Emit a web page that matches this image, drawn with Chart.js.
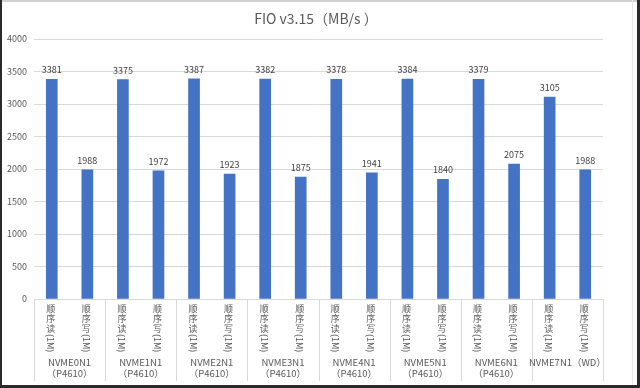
<!DOCTYPE html>
<html><head><meta charset="utf-8">
<script src="https://cdn.jsdelivr.net/npm/chart.js@4"></script>
<style>html,body{margin:0;padding:0;background:#fff;}#wrap{width:640px;height:388px;position:relative;}</style>
</head><body><div id="wrap"><canvas id="c" width="640" height="388"></canvas></div>
<script>
const titleText = "FIO v3.15（MB/s ）";
const groups = ["NVME0N1","NVME1N1","NVME2N1","NVME3N1","NVME4N1","NVME5N1","NVME6N1","NVME7N1"];
const groupSub = ["（P4610）","（P4610）","（P4610）","（P4610）","（P4610）","（P4610）","（P4610）","（WD）"];
const subLabels = ["顺序读","顺序写"];
const subSuffix = "(1M)";
const values = [3381,1988,3375,1972,3387,1923,3382,1875,3378,1941,3384,1840,3379,2075,3105,1988];
const yTicks = [0,500,1000,1500,2000,2500,3000,3500,4000];

const labels = [];
groups.forEach(g => subLabels.forEach(s => labels.push(g + " " + s + subSuffix)));

const FONT = "'Noto Sans CJK SC','Noto Sans',sans-serif";
const TXT = '#595959';

const deco = {
  id: 'deco',
  afterDatasetsDraw(chart) {
    const ctx = chart.ctx;
    const meta = chart.getDatasetMeta(0);
    ctx.save();
    ctx.fillStyle = '#404040';
    ctx.font = "9px " + FONT;
    ctx.textAlign = 'center';
    ctx.textBaseline = 'bottom';
    meta.data.forEach((el, i) => {
      ctx.fillText(String(values[i]), el.x, el.y - 5);
    });
    ctx.restore();
  },
  afterDraw(chart) {
    const ctx = chart.ctx;
    const xs = chart.scales.x;
    const area = chart.chartArea;
    ctx.save();
    // title
    ctx.fillStyle = TXT;
    ctx.font = "14px " + FONT;
    ctx.textAlign = 'center';
    ctx.textBaseline = 'middle';
    ctx.fillText(titleText, 316, 19);
    // category labels
    ctx.font = "9px " + FONT;
    labels.forEach((l, i) => {
      const x = xs.getPixelForValue(i) - 1;
      const s = subLabels[i % 2];
      let y = area.bottom + 5;
      ctx.textAlign = 'center';
      ctx.textBaseline = 'top';
      for (const ch of s) { ctx.fillText(ch, x, y); y += 10; }
      ctx.save();
      ctx.translate(x, y);
      ctx.rotate(Math.PI / 2);
      ctx.textAlign = 'left';
      ctx.textBaseline = 'middle';
      ctx.fillText(subSuffix, 0, 0);
      ctx.restore();
    });
    // group labels and separators
    const step = (area.right - area.left) / groups.length;
    ctx.strokeStyle = '#d9d9d9';
    ctx.lineWidth = 1;
    for (let g = 0; g <= groups.length; g++) {
      const x = Math.round(area.left + g * step) + 0.5;
      ctx.beginPath(); ctx.moveTo(x, area.bottom); ctx.lineTo(x, 381); ctx.stroke();
    }
    ctx.font = "9.5px " + FONT;
    ctx.textAlign = 'center';
    ctx.textBaseline = 'middle';
    groups.forEach((g, i) => {
      const cx = (xs.getPixelForValue(2 * i) + xs.getPixelForValue(2 * i + 1)) / 2;
      if (i === groups.length - 1) {
        ctx.fillText(g + groupSub[i], cx, 362);
      } else {
        ctx.fillText(g, cx, 362);
        ctx.fillText(groupSub[i], cx, 373);
      }
    });
    // frame
    ctx.fillStyle = '#d0d0d0';
    ctx.fillRect(0, 0, 640, 2);
    ctx.fillStyle = '#e6e6e6';
    ctx.fillRect(632, 0, 1, 386);
    ctx.fillStyle = '#2a2a2a';
    ctx.fillRect(0, 0, 2, 388);
    ctx.fillRect(637, 0, 3, 388);
    ctx.fillRect(0, 385, 640, 3);
    ctx.restore();
  }
};

new Chart(document.getElementById('c'), {
  type: 'bar',
  data: { labels, datasets: [{ data: values, backgroundColor: '#4472C4', barThickness: 11 }] },
  options: {
    responsive: false,
    animation: false,
    devicePixelRatio: 1,
    layout: { padding: { left: 0, right: 37, top: 39, bottom: 3 } },
    plugins: { legend: { display: false }, title: { display: false }, tooltip: { enabled: false } },
    scales: {
      x: {
        grid: { display: false },
        border: { display: false },
        ticks: { display: false },
        afterFit(s) { s.height = 86; }
      },
      y: {
        min: 0, max: 4000,
        afterBuildTicks(s) { s.ticks = yTicks.map(v => ({ value: v })); },
        grid: { color: '#d9d9d9', drawTicks: false },
        border: { display: false },
        ticks: { color: TXT, font: { size: 9, family: FONT }, padding: 7, callback: v => String(v) },
        afterFit(s) { s.width = 34; }
      }
    }
  },
  plugins: [deco]
});
</script></body></html>
